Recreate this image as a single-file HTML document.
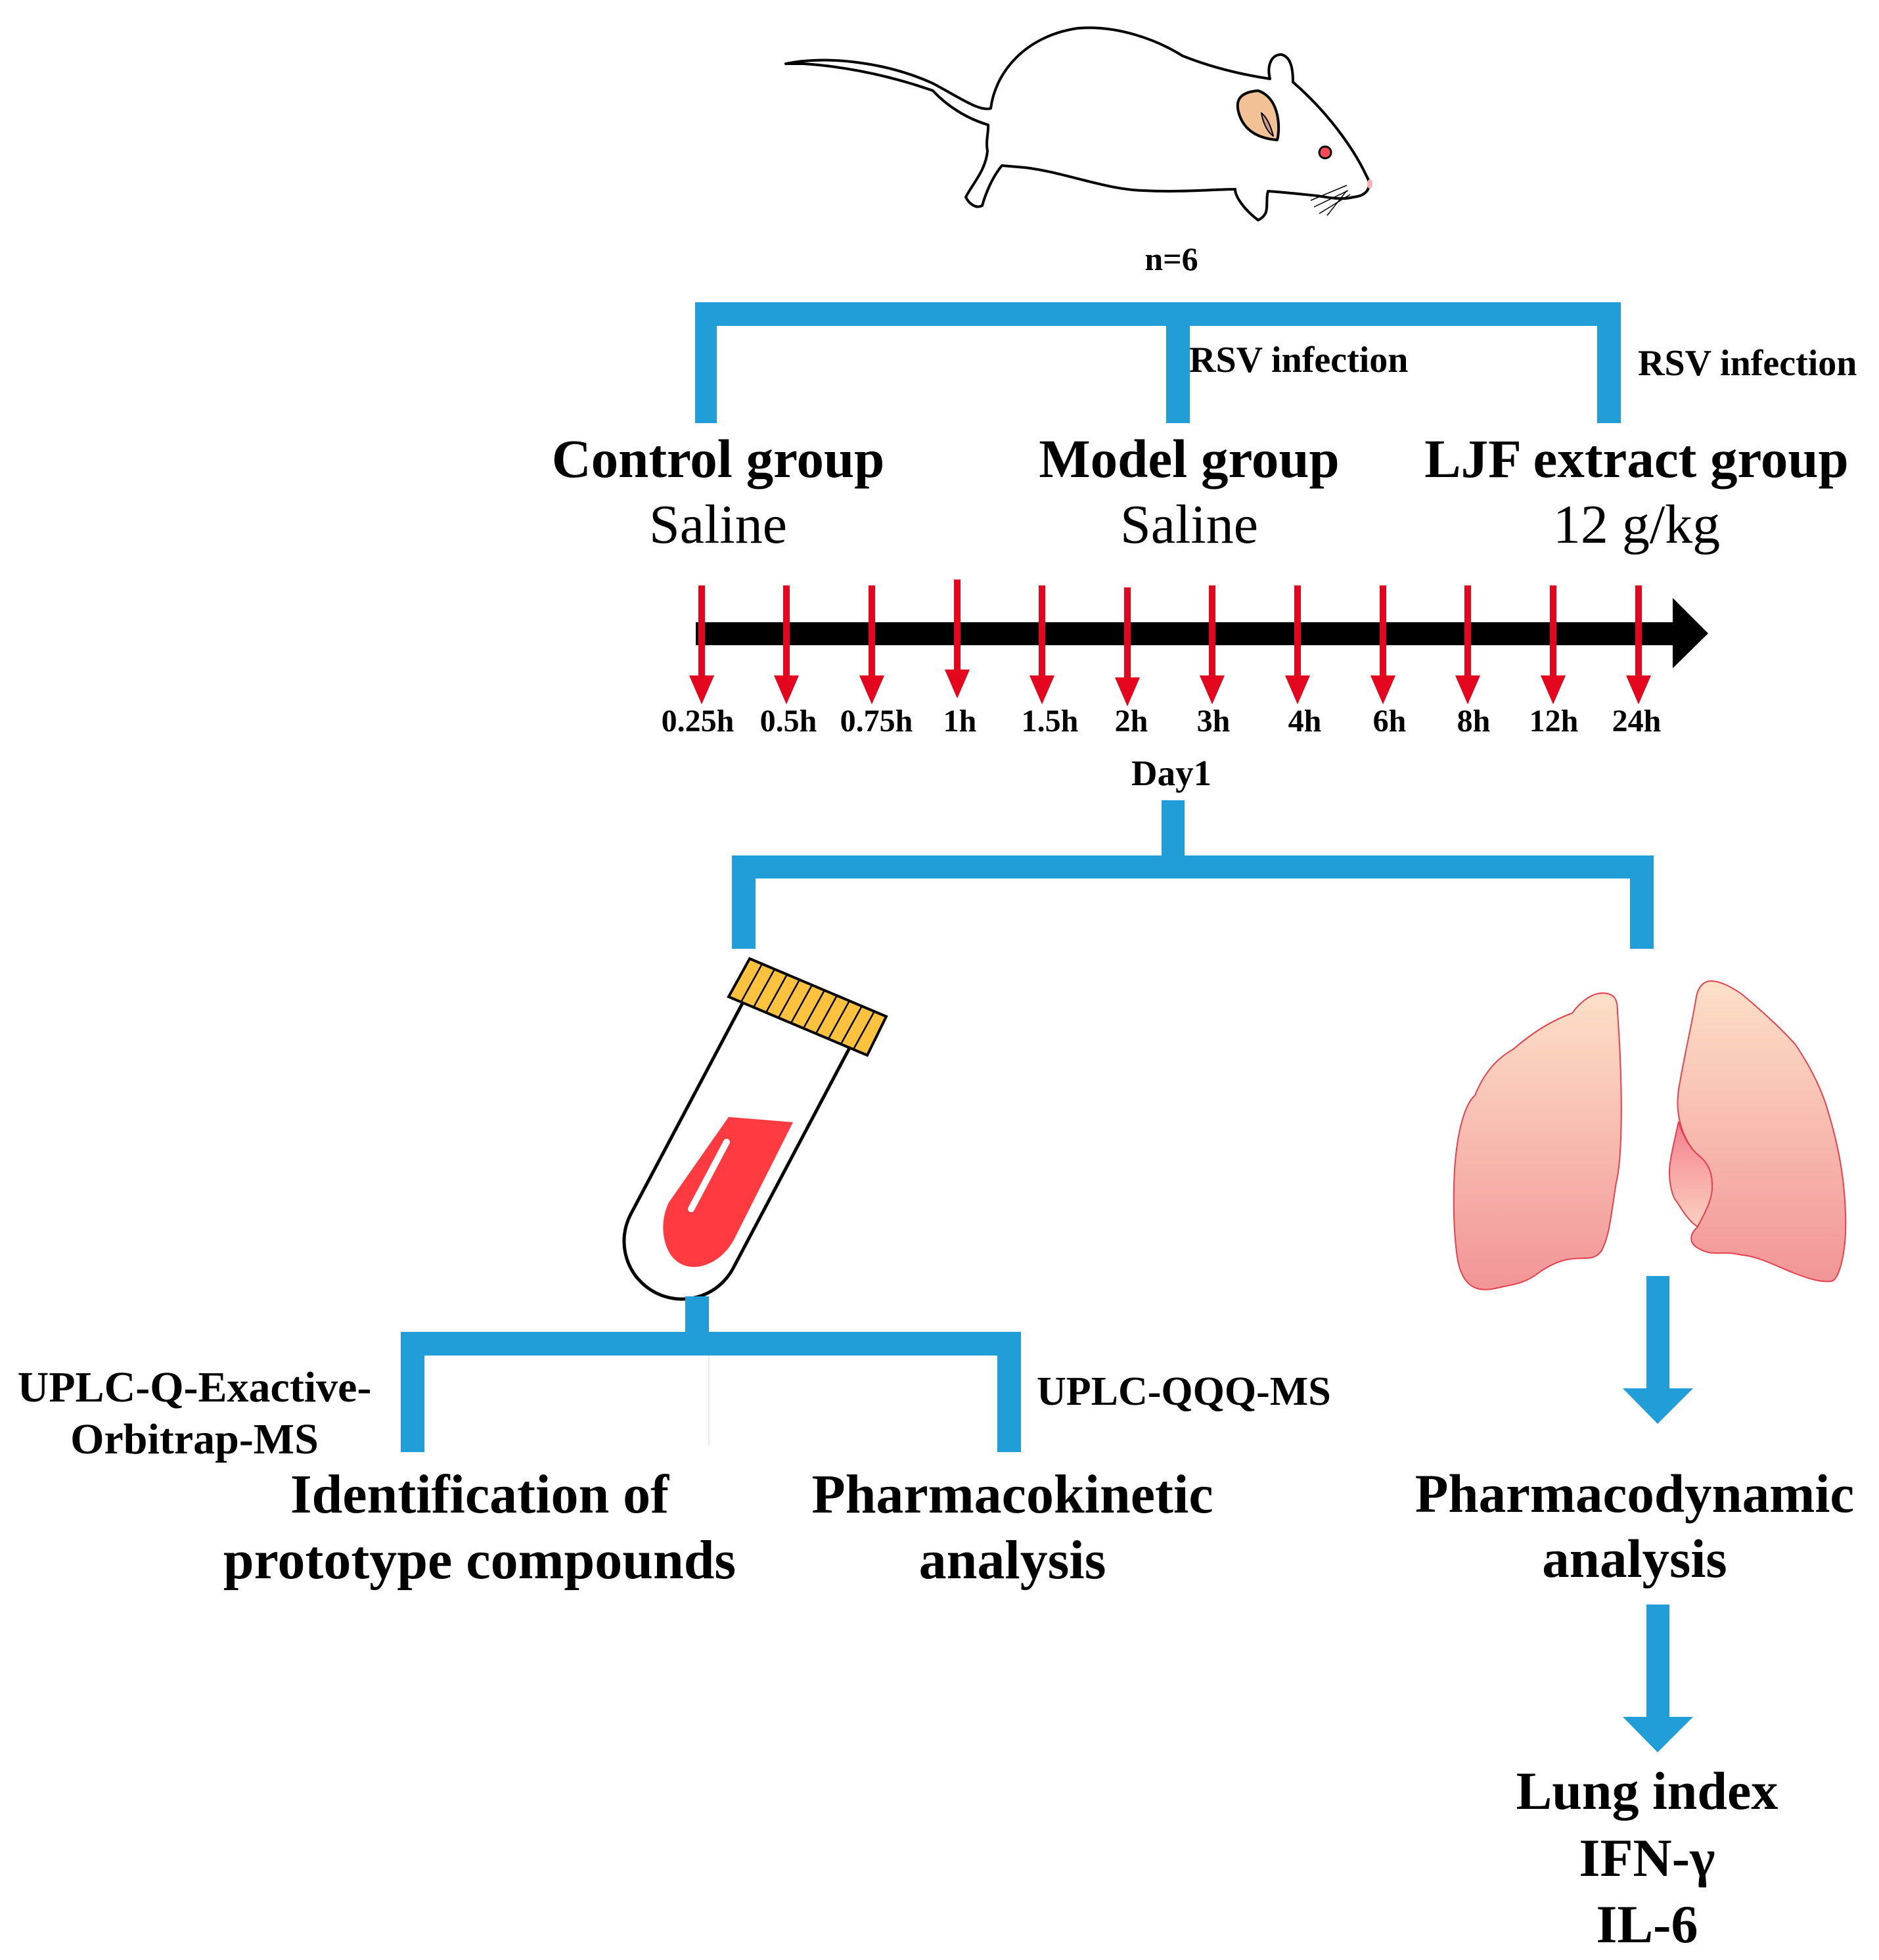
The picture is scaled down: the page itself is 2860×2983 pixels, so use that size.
<!DOCTYPE html>
<html><head><meta charset="utf-8"><style>
html,body{margin:0;padding:0;background:#fff}
svg{display:block}
text{font-family:"Liberation Serif",serif;font-weight:bold;fill:#000}
</style></head><body>
<svg width="2860" height="2983" viewBox="0 0 2860 2983" xmlns="http://www.w3.org/2000/svg">
<defs>
<linearGradient id="lg" x1="0" y1="0" x2="0" y2="1">
<stop offset="0" stop-color="#fde0c8"/><stop offset="1" stop-color="#f29597"/>
</linearGradient>
<linearGradient id="lg2" x1="0" y1="0" x2="0" y2="1">
<stop offset="0" stop-color="#f57f8f"/><stop offset="1" stop-color="#fbd2c0"/>
</linearGradient>
<g id="ra"><rect x="-5" y="891" width="10" height="140"/><polygon points="-19,1028 19,1028 0,1072"/></g>
</defs>

<!-- Mouse -->
<g fill="#fff" stroke="#000" stroke-width="4" stroke-linejoin="round" stroke-linecap="round">
<path d="M1196,97 C1260,84 1350,95 1420,127 C1460,148 1490,170 1508,165 C1515,110 1560,55 1640,43 C1700,38 1760,60 1800,85 C1850,105 1900,115 1933,120 C1928,100 1935,83 1950,83 C1965,86 1968,105 1968,125 C2020,170 2060,225 2080,268 C2090,285 2080,298 2060,300 C2040,305 2020,300 2005,298 C1985,296 1960,293 1930,291 C1925,310 1935,325 1915,335 C1895,320 1880,300 1880,288 C1850,288 1800,293 1740,290 C1680,288 1620,262 1560,255 L1525,252 C1510,270 1500,295 1495,313 C1485,318 1475,310 1470,300 C1480,280 1500,260 1503,230 C1500,215 1505,200 1504,190 C1470,180 1440,160 1420,138 C1340,110 1270,100 1223,97 Z"/>
<path d="M1885,170 C1880,150 1890,140 1915,138 C1950,150 1948,200 1944,213 C1905,210 1890,190 1885,170 Z" fill="#f3c196"/>
<path d="M1920,172 C1930,180 1935,195 1938,207 C1928,200 1922,185 1920,172 Z" fill="#d09a8a" stroke-width="2"/>
<ellipse cx="2017" cy="232" rx="9" ry="9" fill="#ff4a55" stroke-width="3"/>
</g>
<ellipse cx="2085" cy="280" rx="4" ry="7" fill="#f7b0b0"/>
<g stroke="#000" stroke-width="1.5" fill="none">
<path d="M1995,305 L2050,282"/><path d="M2000,315 L2052,290"/><path d="M2008,325 L2055,296"/><path d="M2020,328 L2050,290"/>
</g>

<text x="1783" y="411" font-size="50" text-anchor="middle">n=6</text>

<!-- top bracket -->
<g fill="#219ed8">
<rect x="1058" y="460" width="1409" height="36"/>
<rect x="1058" y="460" width="33" height="184"/>
<rect x="1775" y="460" width="36" height="184"/>
<rect x="2431" y="460" width="36" height="184"/>
</g>
<text x="1810" y="566" font-size="56">RSV infection</text>
<text x="2493" y="571" font-size="56">RSV infection</text>

<text x="1093" y="726" font-size="83" text-anchor="middle">Control group</text>
<text x="1810" y="726" font-size="83" text-anchor="middle">Model group</text>
<text x="2491" y="726" font-size="83" text-anchor="middle">LJF extract group</text>
<text x="1093" y="826" font-size="84" text-anchor="middle" style="font-weight:normal">Saline</text>
<text x="1810" y="826" font-size="84" text-anchor="middle" style="font-weight:normal">Saline</text>
<text x="2491" y="826" font-size="84" text-anchor="middle" style="font-weight:normal">12 g/kg</text>

<!-- timeline -->
<polygon points="1059,947 2546,947 2546,910 2600,964 2546,1017 2546,982 1059,982" fill="#000"/>
<g fill="#e3061e">
<use href="#ra" x="1068"/><use href="#ra" x="1197"/><use href="#ra" x="1327"/>
<use href="#ra" x="1457" y="-9"/>
<use href="#ra" x="1586"/>
<use href="#ra" x="1716" y="3"/>
<use href="#ra" x="1845"/><use href="#ra" x="1975"/><use href="#ra" x="2105"/>
<use href="#ra" x="2234"/><use href="#ra" x="2364"/><use href="#ra" x="2494"/>
</g>
<g font-size="48" text-anchor="middle">
<text x="1062" y="1113">0.25h</text><text x="1200" y="1113">0.5h</text><text x="1334" y="1113">0.75h</text>
<text x="1461" y="1113">1h</text><text x="1598" y="1113">1.5h</text><text x="1722" y="1113">2h</text>
<text x="1847" y="1113">3h</text><text x="1986" y="1113">4h</text><text x="2115" y="1113">6h</text>
<text x="2243" y="1113">8h</text><text x="2365" y="1113">12h</text><text x="2491" y="1113">24h</text>
</g>
<text x="1783" y="1195" font-size="55" text-anchor="middle">Day1</text>

<!-- second bracket -->
<g fill="#219ed8">
<rect x="1768" y="1218" width="35" height="100"/>
<rect x="1114" y="1302" width="1403" height="35"/>
<rect x="1114" y="1302" width="36" height="142"/>
<rect x="2481" y="1302" width="36" height="142"/>
</g>

<!-- test tube -->
<path d="M1130,1527 L960,1848 A88,88 0 0 0 1116,1930 L1293,1595" fill="#fff" stroke="#000" stroke-width="5"/>
<path d="M1109,1700 L1207,1708 L1118,1885 C1095,1930 1040,1945 1018,1905 C1005,1880 1008,1850 1018,1830 Z" fill="#ff3a40"/>
<line x1="1106" y1="1738" x2="1052" y2="1840" stroke="#fff" stroke-width="10" stroke-linecap="round"/>
<polygon points="1141,1459 1349,1547 1320,1606 1109,1517" fill="#ffc23f" stroke="#000" stroke-width="4"/>
<g stroke="#000" stroke-width="2.5">
<line x1="1160" y1="1467" x2="1128" y2="1525"/><line x1="1179" y1="1475" x2="1147" y2="1533"/>
<line x1="1198" y1="1483" x2="1166" y2="1541"/><line x1="1217" y1="1491" x2="1185" y2="1549"/>
<line x1="1236" y1="1499" x2="1204" y2="1557"/><line x1="1255" y1="1507" x2="1223" y2="1565"/>
<line x1="1274" y1="1515" x2="1242" y2="1573"/><line x1="1293" y1="1523" x2="1261" y2="1581"/>
<line x1="1312" y1="1531" x2="1280" y2="1589"/><line x1="1331" y1="1539" x2="1299" y2="1597"/>
</g>

<!-- lungs -->
<path d="M2446,1512 C2460,1515 2462,1525 2462,1540 C2470,1650 2470,1760 2460,1800 C2452,1850 2450,1880 2438,1903 C2430,1915 2420,1915 2409,1915 C2390,1915 2372,1917 2345,1935 C2320,1955 2300,1955 2280,1960 C2249,1968 2225,1960 2218,1913 C2212,1870 2212,1820 2214,1780 C2218,1720 2230,1680 2245,1667 C2260,1630 2280,1610 2303,1597 C2340,1565 2370,1550 2393,1542 C2405,1525 2425,1508 2446,1512 Z" fill="url(#lg)" stroke="#e8404f" stroke-width="2"/>
<path d="M2555,1707 C2548,1740 2540,1770 2541,1787 C2542,1812 2548,1825 2553,1830 C2565,1850 2575,1862 2584,1867 C2600,1840 2608,1825 2606,1800 C2605,1780 2598,1768 2584,1757 C2570,1745 2560,1725 2555,1707 Z" fill="url(#lg2)" stroke="#e8404f" stroke-width="2"/>
<path d="M2604,1493 C2620,1493 2640,1505 2651,1513 C2690,1545 2720,1575 2733,1590 C2760,1630 2775,1665 2783,1693 C2800,1750 2805,1790 2807,1813 C2810,1850 2810,1880 2807,1900 C2803,1930 2795,1950 2787,1950 C2770,1952 2750,1945 2729,1937 C2700,1925 2675,1912 2651,1910 C2630,1905 2620,1908 2606,1907 C2590,1905 2578,1897 2575,1890 C2572,1880 2578,1873 2584,1867 C2595,1845 2608,1825 2606,1800 C2605,1780 2598,1768 2584,1757 C2570,1745 2558,1720 2555,1697 C2552,1680 2554,1660 2557,1647 C2565,1600 2575,1560 2582,1517 C2585,1500 2595,1493 2604,1493 Z" fill="url(#lg)" stroke="#e8404f" stroke-width="2"/>

<!-- lower left bracket -->
<g fill="#219ed8">
<rect x="1043" y="1973" width="36" height="60"/>
<rect x="610" y="2027" width="944" height="36"/>
<rect x="610" y="2027" width="36" height="183"/>
<rect x="1518" y="2027" width="36" height="183"/>
</g>
<line x1="1079" y1="2063" x2="1079" y2="2200" stroke="#d6ebf6" stroke-width="1.5"/>
<text x="296" y="2133" font-size="66" text-anchor="middle">UPLC-Q-Exactive-</text>
<text x="296" y="2212" font-size="66" text-anchor="middle">Orbitrap-MS</text>
<text x="1578" y="2138" font-size="62">UPLC-QQQ-MS</text>
<text x="730" y="2302" font-size="84" text-anchor="middle">Identification of</text>
<text x="730" y="2402" font-size="84" text-anchor="middle">prototype compounds</text>
<text x="1541" y="2302" font-size="84" text-anchor="middle">Pharmacokinetic</text>
<text x="1541" y="2402" font-size="84" text-anchor="middle">analysis</text>

<!-- right arrows -->
<g fill="#219ed8">
<polygon points="2506,1942 2541,1942 2541,2113 2577,2113 2523,2167 2470,2113 2506,2113"/>
<polygon points="2506,2442 2541,2442 2541,2613 2577,2613 2523,2667 2470,2613 2506,2613"/>
</g>
<text x="2488" y="2301" font-size="83" text-anchor="middle">Pharmacodynamic</text>
<text x="2488" y="2400" font-size="83" text-anchor="middle">analysis</text>
<text x="2507" y="2753" font-size="82" text-anchor="middle">Lung index</text>
<text x="2507" y="2855" font-size="82" text-anchor="middle">IFN-γ</text>
<text x="2507" y="2956" font-size="82" text-anchor="middle">IL-6</text>
</svg>
</body></html>
